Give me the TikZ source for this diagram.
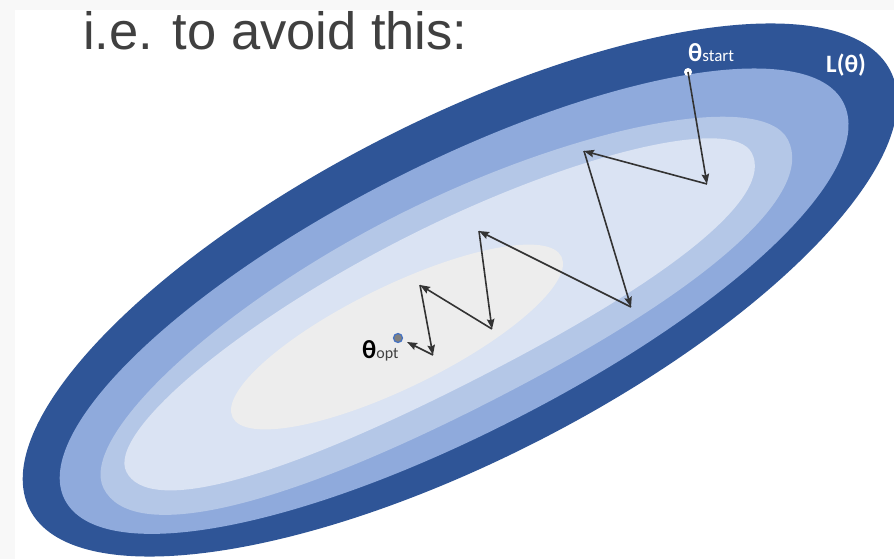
\documentclass[tikz,border=0pt]{standalone}
\usepackage{fontspec}
\setmainfont{Liberation Sans}
\newfontfamily\calib{Carlito}
\usetikzlibrary{arrows.meta}
\definecolor{bggray}{HTML}{F8F8F8}
\definecolor{bandA}{HTML}{2F5597}
\definecolor{bandB}{HTML}{8FAADC}
\definecolor{bandC}{HTML}{B4C7E7}
\definecolor{bandD}{HTML}{DAE3F3}
\definecolor{bandE}{HTML}{EDEDED}
\definecolor{arrowc}{HTML}{333333}
\definecolor{titlec}{HTML}{404040}
\definecolor{optfill}{HTML}{808080}
\definecolor{optrim}{HTML}{4472C4}
% #1 colour, #2 centre, #3 angle, #4 right half-axis, #5 left half-axis,
% #6 upper half-width, #7 lower half-width, #8 upper kappa, #9 lower kappa
\newcommand\eggshape[9]{%
  \fill[#1, shift={#2}, rotate=#3]
    (#4,0) .. controls (#4,{-#8*#6}) and ({#8*#4},-#6) .. (0,-#6)
    .. controls ({-#8*#5},-#6) and (-#5,{-#8*#6}) .. (-#5,0)
    .. controls (-#5,{#9*#7}) and ({-#9*#5},#7) .. (0,#7)
    .. controls ({#9*#4},#7) and (#4,{#9*#7}) .. cycle;}
\begin{document}
\begin{tikzpicture}[x=1pt,y=-1pt,
  conn/.style={draw=arrowc, line width=1.6pt, -{Stealth[length=10pt,width=7.5pt,inset=1.5pt]}}]
\useasboundingbox (0,0) rectangle (894,559);
\clip (0,0) rectangle (894,559);
\fill[bggray] (0,0) rectangle (894,559);
\fill[white] (15,10) rectangle (894,559);
% contour bands (outer to inner)
\eggshape{bandA}{(460,290)}{27}{483}{483}{170}{170}{0.5523}{0.5523}
\eggshape{bandB}{(454,301)}{27}{437}{437}{136}{133}{0.5523}{0.57}
\eggshape{bandC}{(444,315)}{27}{386}{382}{110}{98}{0.52}{0.63}
\eggshape{bandD}{(440,312)}{27}{350}{352}{82}{76}{0.53}{0.64}
\fill[bandE, rotate around={26:(397,337)}] (397,337) ellipse [x radius=183pt, y radius=51pt];
% title
\node[anchor=base west, inner sep=0pt, text=titlec, font=\fontsize{52.5}{52.5}\selectfont] (title) at (83,50) {i.e. to avoid this:};
% points
\node[circle, fill=white, inner sep=0pt, minimum size=8pt] (start) at (688,72) {};
\node[circle, fill=optfill, draw=optrim, line width=1.2pt, inner sep=0pt, minimum size=9pt] (opt) at (398,338) {};
\coordinate (p1) at (707,184);
\coordinate (p2) at (584,151);
\coordinate (p3) at (631,307);
\coordinate (p4) at (479,231);
\coordinate (p5) at (492,329);
\coordinate (p6) at (420,285);
\coordinate (p7) at (433,355);
\coordinate (p8) at (407,342);
\draw[conn] (start.center) -- (p1);
\draw[conn] (p1) -- (p2);
\draw[conn] (p2) -- (p3);
\draw[conn] (p3) -- (p4);
\draw[conn] (p4) -- (p5);
\draw[conn] (p5) -- (p6);
\draw[conn] (p6) -- (p7);
\draw[conn] (p7) -- (p8);
% labels
\node[anchor=base west, inner sep=0pt, text=white] (lstart) at (688,62)
  {\calib\bfseries\fontsize{26}{26}\selectfont θ\mdseries\fontsize{17}{17}\selectfont start};
\node[anchor=base west, inner sep=0pt, text=white] (lloss) at (826,73)
  {\calib\bfseries\fontsize{25}{25}\selectfont L(θ)};
\node[anchor=base west, inner sep=0pt, text=black] (lopt) at (362,358)
  {\calib\bfseries\fontsize{26}{26}\selectfont θ\mdseries\fontsize{16}{16}\selectfont\color{titlec}opt};
\end{tikzpicture}
\end{document}
